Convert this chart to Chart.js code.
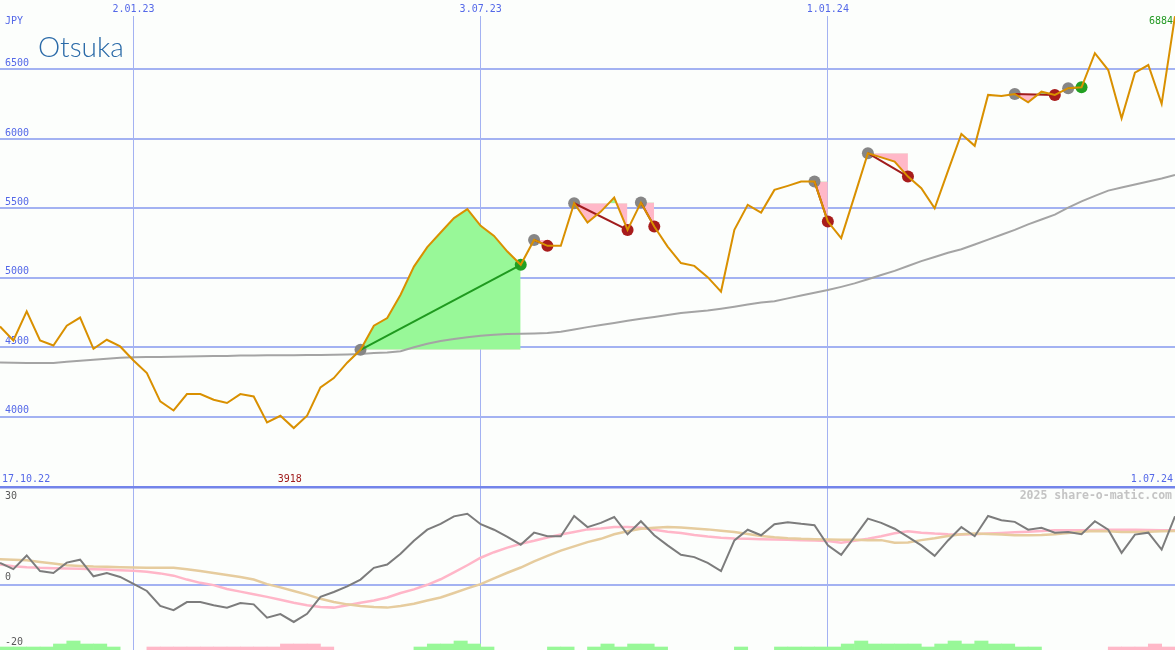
<!DOCTYPE html>
<html>
<head>
<meta charset="utf-8">
<script src="https://cdn.jsdelivr.net/npm/chart.js@4.4.1/dist/chart.umd.min.js"></script>
<style>
  body { margin: 0; background: #fcfefc; }
  #wrap { position: relative; width: 1175px; height: 650px; overflow: hidden; background: #fcfefc; }
  #priceChart { position: absolute; left: 0; top: 0; }
  #oscChart { position: absolute; left: 0; top: 485px; }
</style>
</head>
<body>
<div id="wrap">
  <canvas id="priceChart" width="1175" height="487"></canvas>
  <canvas id="oscChart" width="1175" height="165"></canvas>
</div>
<script>
// weekly closes (JPY), index = week number on the x axis
const prices = [
  4650, 4549, 4758, 4549, 4513, 4655, 4714, 4489, 4554, 4506,
  4405, 4314, 4110, 4045, 4163, 4163, 4122, 4099, 4163, 4146,
  3959, 4007, 3918, 4007, 4211, 4278, 4389, 4482, 4655, 4710,
  4878, 5081, 5221, 5326, 5430, 5494, 5374, 5302, 5189, 5094,
  5273, 5230, 5230, 5537, 5398, 5477, 5578, 5345, 5542, 5369,
  5225, 5106, 5086, 5005, 4901, 5345, 5525, 5470, 5633, 5662,
  5693, 5693, 5405, 5286, 5590, 5897, 5867, 5837, 5729, 5645,
  5501, 5770, 6036, 5950, 6317, 6309, 6324, 6264, 6340, 6317,
  6365, 6372, 6617, 6496, 6149, 6477, 6532, 6252, 6884
];
// long moving average (grey)
const avgLine = [
  4391, 4388, 4386, 4386, 4387, 4395, 4403, 4410, 4418, 4425,
  4428, 4430, 4430, 4431, 4433, 4435, 4437, 4438, 4440, 4441,
  4442, 4442, 4443, 4444, 4445, 4446, 4448, 4452, 4458, 4463,
  4472, 4500, 4525, 4545, 4560, 4572, 4583, 4590, 4595, 4597,
  4600, 4602, 4612, 4628, 4645, 4660, 4675, 4691, 4705, 4718,
  4732, 4746, 4755, 4765, 4778, 4792, 4808, 4822, 4832, 4852,
  4873, 4893, 4912, 4935, 4960, 4990, 5020, 5050, 5085, 5120,
  5150, 5180, 5206, 5240, 5275, 5310, 5345, 5385, 5420, 5455,
  5505, 5550, 5590, 5628, 5650, 5672, 5693, 5715, 5740
];
// lower panel
const momentum = [
  6.7, 4.8, 9.0, 4.2, 3.6, 6.8, 7.7, 2.6, 3.6, 2.4,
  0.3, -1.9, -6.5, -7.8, -5.3, -5.3, -6.3, -7.0, -5.6, -6.0,
  -10.1, -9.0, -11.4, -8.9, -3.7, -2.2, -0.5, 1.6, 5.2, 6.2,
  9.5, 13.5, 16.9, 18.7, 21.0, 21.8, 18.6, 16.9, 14.7, 12.3,
  16.0, 14.9, 14.9, 21.1, 17.7, 19.0, 20.8, 15.5, 19.5, 15.2,
  12.1, 9.2, 8.5, 6.7, 4.2, 13.6, 16.9, 15.2, 18.6, 19.2,
  18.7, 18.3, 12.1, 9.2, 14.7, 20.3, 19.0, 17.2, 14.7, 12.1,
  8.9, 13.6, 17.7, 14.9, 21.1, 19.8, 19.3, 16.9, 17.5, 16.0,
  16.2, 15.5, 19.5, 16.9, 9.8, 15.4, 16.0, 10.8, 21.0
];
const momFast = [
  6.2, 5.7, 5.4, 5.2, 5.1, 5.0, 4.9, 4.8, 4.7, 4.5,
  4.3, 4.0, 3.5, 2.8, 1.6, 0.6, -0.1, -1.3, -2.1, -2.9,
  -3.7, -4.6, -5.5, -6.3, -6.8, -7.0, -6.3, -5.5, -4.8, -3.9,
  -2.5, -1.4, 0.0, 1.7, 3.8, 6.0, 8.3, 10.0, 11.4, 12.6,
  13.5, 14.5, 15.4, 16.2, 17.0, 17.3, 17.7, 17.7, 17.5, 16.9,
  16.3, 15.9, 15.3, 14.8, 14.4, 14.2, 14.1, 14.0, 13.9, 13.8,
  13.7, 13.6, 13.4, 12.9, 13.5, 14.1, 14.9, 15.8, 16.4, 16.0,
  15.7, 15.5, 15.4, 15.5, 15.7, 15.9, 16.1, 16.3, 16.5, 16.7,
  16.7, 16.7, 16.8, 16.9, 16.9, 16.9, 16.8, 16.7, 16.7
];
const momSlow = [
  7.8, 7.7, 7.5, 7.0, 6.5, 6.0, 5.8, 5.6, 5.5, 5.4,
  5.3, 5.2, 5.2, 5.2, 4.8, 4.2, 3.6, 3.0, 2.4, 1.6,
  0.2, -0.8, -1.9, -3.0, -4.3, -5.3, -6.0, -6.5, -6.8, -7.0,
  -6.5, -5.8, -4.8, -3.9, -2.5, -1.1, 0.2, 2.0, 3.7, 5.3,
  7.2, 8.9, 10.5, 11.8, 13.1, 14.1, 15.5, 16.4, 17.2, 17.5,
  17.7, 17.6, 17.3, 17.0, 16.6, 16.2, 15.6, 15.0, 14.6, 14.3,
  14.1, 14.0, 13.9, 13.8, 13.8, 13.7, 13.7, 12.9, 13.0, 13.7,
  14.3, 15.0, 15.5, 15.7, 15.6, 15.4, 15.2, 15.2, 15.3, 15.5,
  15.9, 16.3, 16.5, 16.4, 16.2, 16.2, 16.3, 16.4, 16.5
];
// trend strength blocks at the bottom (+ green, - pink)
const trendLevel = [
  1, 1, 1, 1, 2, 3, 2, 2, 1, 0,
  0, -1, -1, -1, -1, -1, -1, -1, -1, -1,
  -1, -2, -2, -2, -1, 0, 0, 0, 0, 0,
  0, 1, 2, 2, 3, 2, 1, 0, 0, 0,
  0, 1, 1, 0, 1, 2, 1, 2, 2, 1,
  0, 0, 0, 0, 0, 1, 0, 0, 1, 1,
  1, 1, 1, 2, 3, 2, 2, 2, 2, 1,
  2, 3, 2, 3, 2, 2, 1, 1, 0, 0,
  0, 0, 0, -1, -1, -1, -2, -1, 0
];
// signals: week of entry and week of exit
const tradeStart = [27, 40, 43, 48, 61, 65, 76, 80];
const tradeEnd   = [39, 41, 47, 49, 62, 68, 79, 81];

const dateTickWeeks = [10, 36, 62];
const dateTickLabels = ['2.01.23', '3.07.23', '1.01.24'];
const priceTicks = [4000, 4500, 5000, 5500, 6000, 6500];
const oscTicks = [30, 0, -20];
const firstDate = '17.10.22';
const lastDate = '1.07.24';

const mono = '"DejaVu Sans Mono", monospace';
const blue = '#5468e8';
const gridBlue = '#a3b2f2';
const frameBlue = '#7384ea';
const fillGreen = '#98f898';
const fillPink = '#ffb8c8';

Chart.defaults.font.family = mono;
Chart.defaults.font.size = 10;

const pt = (arr) => arr.map((v, k) => ({ x: k, y: v }));

const priceSets = [
  { data: pt(prices), borderColor: '#d99000', borderWidth: 2, pointRadius: 0, order: 1 },
  { data: pt(avgLine), borderColor: '#a4a4a4', borderWidth: 2, pointRadius: 0, order: 5 }
];
const endDots = [], endColors = [];
tradeStart.forEach((s, t) => {
  const e = tradeEnd[t];
  const win = prices[e] > prices[s];
  const seg = [];
  for (let k = s; k <= e; k++) seg.push({ x: k, y: prices[k] });
  priceSets.push({
    data: seg, borderColor: 'transparent', borderWidth: 0, pointRadius: 0, order: 10,
    fill: { target: { value: prices[s] }, above: fillGreen, below: fillPink }
  });
  priceSets.push({
    data: [{ x: s, y: prices[s] }, { x: e, y: prices[e] }],
    borderColor: win ? '#1f9a1f' : '#a01c1c', borderWidth: 2, pointRadius: 0, order: 2
  });
  endDots.push({ x: e, y: prices[e] });
  endColors.push(win ? '#22a022' : '#a81c1c');
});
priceSets.push({
  data: tradeStart.map(k => ({ x: k, y: prices[k] })), showLine: false,
  pointRadius: 6, pointBorderWidth: 0, pointBackgroundColor: '#868686', order: 4
});
priceSets.push({
  data: endDots, showLine: false,
  pointRadius: 6, pointBorderWidth: 0, pointBackgroundColor: endColors, order: 3
});

const priceText = {
  id: 'priceText',
  afterDraw(chart) {
    const { ctx, chartArea, scales: { x } } = chart;
    ctx.save();
    ctx.font = '10px ' + mono;
    ctx.textBaseline = 'middle';
    ctx.fillStyle = blue;
    ctx.textAlign = 'left';
    ctx.fillText('JPY', 5, 21);
    ctx.fillText(firstDate, 2, chartArea.bottom - 8);
    ctx.textAlign = 'right';
    ctx.fillText(lastDate, chartArea.right - 2, chartArea.bottom - 8);
    const low = Math.min(...prices);
    ctx.fillStyle = '#a01c1c';
    ctx.textAlign = 'center';
    ctx.fillText(String(low), x.getPixelForValue(prices.indexOf(low)) - 4, chartArea.bottom - 8);
    ctx.fillStyle = '#229922';
    ctx.textAlign = 'right';
    ctx.fillText(String(prices[prices.length - 1]), chartArea.right - 2, 21);
    ctx.font = '300 28px Lato';
    ctx.fillStyle = '#2a6aa8';
    ctx.textAlign = 'left';
    ctx.textBaseline = 'alphabetic';
    ctx.fillText('Otsuka', 38, 57);
    ctx.restore();
  }
};

new Chart(document.getElementById('priceChart'), {
  type: 'line',
  data: { datasets: priceSets },
  options: {
    responsive: false,
    animation: false,
    events: [],
    layout: { autoPadding: false, padding: 0 },
    plugins: { legend: { display: false }, tooltip: { enabled: false } },
    scales: {
      x: {
        type: 'linear', position: 'top', min: 0, max: prices.length - 1, offset: false,
        afterBuildTicks: s => { s.ticks = dateTickWeeks.map(v => ({ value: v })); },
        afterFit: s => { s.height = 16; s.paddingLeft = 0; s.paddingRight = 0; },
        ticks: {
          callback: v => dateTickLabels[dateTickWeeks.indexOf(v)],
          color: blue, padding: 1, autoSkip: false, maxRotation: 0
        },
        grid: { color: gridBlue, lineWidth: 1, drawTicks: false },
        border: { display: false }
      },
      y: {
        min: 3494, max: 6885,
        afterBuildTicks: s => { s.ticks = priceTicks.map(v => ({ value: v })); },
        afterFit: s => { s.width = 0; s.paddingTop = 0; s.paddingBottom = 0; },
        ticks: { mirror: true, padding: 5, labelOffset: -6, color: blue, callback: v => String(v) },
        grid: { color: gridBlue, lineWidth: 2, drawTicks: false },
        border: { display: false }
      }
    }
  },
  plugins: [priceText]
});

// lower panel
const bars = [], barColors = [];
trendLevel.forEach((lvl, k) => {
  if (!lvl) return;
  bars.push({ x: k + 0.5, y: [-20, -20 + Math.abs(lvl) * 0.92] });
  barColors.push(lvl > 0 ? fillGreen : fillPink);
});

const oscText = {
  id: 'oscText',
  afterDraw(chart) {
    const { ctx, chartArea, scales: { y } } = chart;
    ctx.save();
    ctx.font = '10px ' + mono;
    ctx.textBaseline = 'middle';
    ctx.textAlign = 'left';
    ctx.fillStyle = '#5a5a5a';
    ctx.fillText(String(oscTicks[0]), 5, y.getPixelForValue(oscTicks[0]) + 9);
    ctx.fillText(String(oscTicks[1]), 5, y.getPixelForValue(oscTicks[1]) - 7);
    ctx.fillText(String(oscTicks[2]), 5, y.getPixelForValue(oscTicks[2]) - 8);
    ctx.font = 'bold 11.5px ' + mono;
    ctx.fillStyle = '#c4c4c4';
    ctx.textAlign = 'right';
    ctx.fillText('2025 share-o-matic.com', chartArea.right - 3, y.getPixelForValue(oscTicks[0]) + 9);
    ctx.restore();
  }
};

new Chart(document.getElementById('oscChart'), {
  type: 'line',
  data: {
    datasets: [
      { data: pt(momentum), borderColor: '#7c7c7c', borderWidth: 2, pointRadius: 0, order: 1 },
      { data: pt(momSlow), borderColor: '#e6cc9e', borderWidth: 2.5, pointRadius: 0, order: 2 },
      { data: pt(momFast), borderColor: '#ffb6c8', borderWidth: 2.5, pointRadius: 0, order: 3 },
      { type: 'bar', data: bars, backgroundColor: barColors, borderWidth: 0,
        barPercentage: 1, categoryPercentage: 1, order: 4 }
    ]
  },
  options: {
    responsive: false,
    animation: false,
    events: [],
    layout: { autoPadding: false, padding: { top: 2 } },
    plugins: { legend: { display: false }, tooltip: { enabled: false } },
    scales: {
      x: {
        type: 'linear', min: 0, max: prices.length - 1, offset: false,
        afterBuildTicks: s => { s.ticks = dateTickWeeks.map(v => ({ value: v })); },
        afterFit: s => { s.height = 0; s.paddingLeft = 0; s.paddingRight = 0; },
        ticks: { display: false },
        grid: { color: gridBlue, lineWidth: 1, drawTicks: false, offset: false },
        border: { display: false }
      },
      y: {
        min: -20, max: 30,
        afterBuildTicks: s => { s.ticks = oscTicks.map(v => ({ value: v })); },
        afterFit: s => { s.width = 0; s.paddingTop = 0; s.paddingBottom = 0; },
        ticks: { display: false },
        grid: {
          drawTicks: false,
          color: c => c.tick.value === 30 ? frameBlue : (c.tick.value === 0 ? gridBlue : 'transparent'),
          lineWidth: c => c.tick.value === 30 ? 2.5 : 2
        },
        border: { display: false }
      }
    }
  },
  plugins: [oscText]
});
</script>
</body>
</html>
